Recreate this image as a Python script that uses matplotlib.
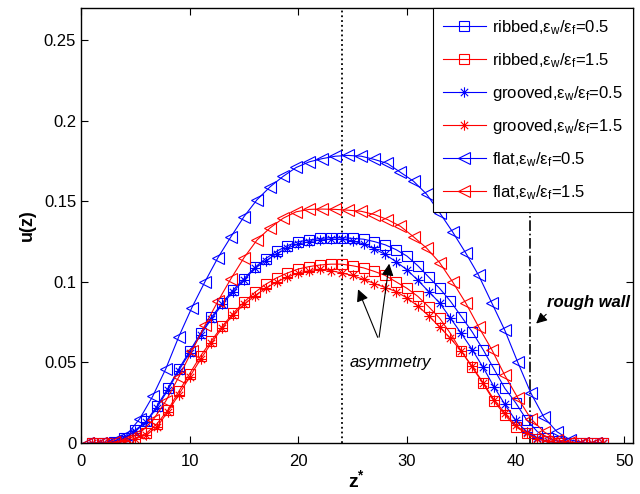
import matplotlib
matplotlib.use("Agg")
import matplotlib.pyplot as plt
from matplotlib.path import Path

plt.rcParams['font.family'] = ['Liberation Sans', 'DejaVu Sans']
plt.rcParams['mathtext.fontset'] = 'custom'
plt.rcParams['mathtext.rm'] = 'Liberation Sans'
plt.rcParams['mathtext.it'] = 'Liberation Sans:italic'
plt.rcParams['mathtext.bf'] = 'Liberation Sans:bold'

# z grid of the ribbed / grooved runs and of the flat runs
z_rough = [1, 2, 3, 4, 5, 6, 7, 8, 9, 10, 11, 12, 13, 14, 15, 16, 17, 18, 19, 20,
           21, 22, 23, 24, 25, 26, 27, 28, 29, 30, 31, 32, 33, 34, 35, 36, 37, 38,
           39, 40, 41, 42, 43, 44, 45, 46, 47, 48]
z_flat = [0.6, 1.8, 3.0, 4.2, 5.4, 6.6, 7.8, 9.0, 10.2, 11.4, 12.6, 13.8, 15.0,
          16.2, 17.4, 18.6, 19.8, 21.0, 22.2, 23.4, 24.6, 25.8, 27.0, 28.2, 29.4,
          30.6, 31.8, 33.0, 34.2, 35.4, 36.6, 37.8, 39.0, 40.2, 41.4, 42.6, 43.8,
          45.0, 46.2, 47.4]

u_ribbed_05 = [0, 0, 0.0005, 0.003, 0.008, 0.0135, 0.023, 0.034, 0.046, 0.057,
               0.068, 0.078, 0.087, 0.095, 0.102, 0.109, 0.1145, 0.119, 0.1225,
               0.125, 0.126, 0.127, 0.1275, 0.1275, 0.127, 0.1265, 0.125, 0.123,
               0.120, 0.116, 0.110, 0.103, 0.096, 0.088, 0.0785, 0.069, 0.058,
               0.046, 0.034, 0.025, 0.0145, 0.007, 0.003, 0.001, 0, 0, 0, 0]
u_ribbed_15 = [0, 0, 0, 0.001, 0.003, 0.006, 0.012, 0.0205, 0.032, 0.043, 0.054,
               0.0635, 0.0725, 0.0805, 0.0875, 0.0935, 0.0985, 0.1025, 0.1055,
               0.108, 0.1095, 0.1105, 0.111, 0.111, 0.110, 0.1087, 0.1065, 0.104,
               0.100, 0.096, 0.091, 0.0845, 0.0775, 0.068, 0.057, 0.047, 0.037,
               0.026, 0.0175, 0.010, 0.006, 0.0025, 0.001, 0, 0, 0, 0, 0]
u_grooved_05 = [0, 0, 0.0005, 0.003, 0.0075, 0.013, 0.022, 0.033, 0.045, 0.056,
                0.067, 0.077, 0.086, 0.094, 0.101, 0.1085, 0.113, 0.1175, 0.121,
                0.1235, 0.125, 0.126, 0.1265, 0.1265, 0.1255, 0.1235, 0.1205,
                0.117, 0.1125, 0.1075, 0.101, 0.094, 0.087, 0.0775, 0.068, 0.058,
                0.047, 0.035, 0.024, 0.014, 0.007, 0.003, 0.001, 0, 0, 0, 0, 0]
u_grooved_15 = [0, 0, 0, 0.001, 0.0025, 0.005, 0.010, 0.0195, 0.030, 0.041, 0.052,
                0.062, 0.0715, 0.0795, 0.086, 0.0915, 0.096, 0.100, 0.103, 0.1055,
                0.107, 0.108, 0.107, 0.1055, 0.104, 0.1015, 0.099, 0.0965, 0.094,
                0.090, 0.085, 0.079, 0.072, 0.065, 0.057, 0.0475, 0.0375, 0.027,
                0.0185, 0.011, 0.006, 0.0025, 0.001, 0, 0, 0, 0, 0]
u_flat_05 = [0, 0, 0.001, 0.005, 0.015, 0.029, 0.046, 0.066, 0.084, 0.100, 0.115,
             0.128, 0.1405, 0.151, 0.159, 0.1655, 0.171, 0.1745, 0.1765, 0.178,
             0.1785, 0.178, 0.176, 0.1735, 0.168, 0.1625, 0.1545, 0.143, 0.131,
             0.118, 0.104, 0.087, 0.070, 0.050, 0.031, 0.016, 0.007, 0.002, 0, 0]
u_flat_15 = [0, 0, 0.0005, 0.002, 0.006, 0.014, 0.026, 0.041, 0.057, 0.073, 0.088,
             0.102, 0.115, 0.126, 0.1335, 0.1395, 0.1435, 0.145, 0.1452, 0.145,
             0.1445, 0.1438, 0.1418, 0.1387, 0.1345, 0.128, 0.121, 0.112, 0.100,
             0.087, 0.072, 0.058, 0.042, 0.028, 0.015, 0.007, 0.002, 0.0005, 0, 0]

# matlab style asterisk: + and x strokes
d = 0.7071
asterisk = Path([(-1, 0), (1, 0), (0, -1), (0, 1), (-d, -d), (d, d), (-d, d), (d, -d)],
                [Path.MOVETO, Path.LINETO] * 4)

lab = 'ε$_\\mathrm{w}$/ε$_\\mathrm{f}$='
series = [
    (z_rough, u_ribbed_05, 'b', 's', 6.5, 'ribbed,' + lab + '0.5'),
    (z_rough, u_ribbed_15, 'r', 's', 6.5, 'ribbed,' + lab + '1.5'),
    (z_rough, u_grooved_05, 'b', asterisk, 7.5, 'grooved,' + lab + '0.5'),
    (z_rough, u_grooved_15, 'r', asterisk, 7.5, 'grooved,' + lab + '1.5'),
    (z_flat, u_flat_05, 'b', '<', 8, 'flat,' + lab + '0.5'),
    (z_flat, u_flat_15, 'r', '<', 8, 'flat,' + lab + '1.5'),
]

fig = plt.figure(figsize=(6.4, 4.94), dpi=100)
ax = fig.add_axes([81 / 640, 51 / 494, 552 / 640, 435 / 494])

for z, u, c, m, ms, label in series:
    ax.plot(z, u, color=c, marker=m, markersize=ms, markerfacecolor='none',
            markeredgewidth=0.8, linewidth=0.8, label=label)

ax.axvline(24, color='k', linestyle=':', linewidth=1.3, zorder=1)
ax.axvline(41.3, color='k', linestyle='-.', linewidth=1.2, zorder=1)

ax.set_xlim(0, 50.8)
ax.set_ylim(0, 0.27)
ax.set_xticks([0, 10, 20, 30, 40, 50])
ax.set_yticks([0, 0.05, 0.1, 0.15, 0.2, 0.25])
ax.set_yticklabels(['0', '0.05', '0.1', '0.15', '0.2', '0.25'])
ax.tick_params(direction='in', top=True, right=True, length=5, width=0.8,
               labelsize=12)
ax.tick_params(axis='x', pad=8)
for sp in ax.spines.values():
    sp.set_linewidth(1.0)

ax.set_xlabel(r'$\mathbf{z^{*}}$', fontsize=14, labelpad=0)
ax.set_ylabel('u(z)', fontsize=13, fontweight='bold', labelpad=6)

ax.annotate('', xy=(25.4, 0.097), xytext=(27.4, 0.064),
            arrowprops=dict(arrowstyle='-|>', color='k', lw=0.8, mutation_scale=18))
ax.annotate('', xy=(28.4, 0.113), xytext=(27.4, 0.064),
            arrowprops=dict(arrowstyle='-|>', color='k', lw=0.8, mutation_scale=18))
ax.text(28.5, 0.050, 'asymmetry', fontsize=12, style='italic', ha='center', va='center')

ax.annotate('', xy=(41.7, 0.073), xytext=(43.0, 0.081),
            arrowprops=dict(arrowstyle='-|>', color='k', lw=0.8, mutation_scale=16))
ax.text(42.9, 0.087, 'rough wall', fontsize=12, style='italic', fontweight='bold',
        ha='left', va='center', clip_on=True)

leg = ax.legend(loc='upper right', fontsize=12, numpoints=1, handlelength=2.6,
                handletextpad=0.35, labelspacing=0.85, borderaxespad=0,
                borderpad=0.6, fancybox=False, framealpha=1, edgecolor='k')
leg.get_frame().set_linewidth(0.8)

fig.savefig('out.png', dpi=100)
